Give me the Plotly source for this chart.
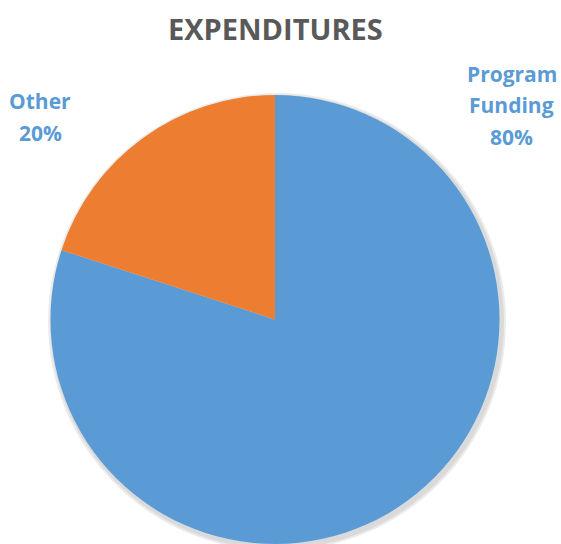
import plotly.graph_objects as go

labels = ["Program Funding", "Other"]
values = [80, 20]
colors = ["#5B9BD5", "#ED7D31"]
title_text = "EXPENDITURES"

W, H = 561, 544
total = sum(values)

fig = go.Figure()
fig.add_trace(go.Pie(
    labels=labels,
    values=values,
    marker=dict(colors=colors, line=dict(width=0)),
    sort=False,
    direction="clockwise",
    rotation=0,
    textinfo="none",
    hoverinfo="label+percent",
    showlegend=False,
    domain=dict(x=[50 / W, 500 / W], y=[0, (H - 95) / H]),
))

# subtle shadow behind the pie
for op, d in [(0.08, 4), (0.07, 2)]:
    fig.add_shape(type="circle", xref="paper", yref="paper", layer="below",
                  x0=(50 - d + 2) / W, x1=(500 + d + 2) / W,
                  y0=(H - 545 - d - 2) / H, y1=(H - 95 + d - 2) / H,
                  fillcolor="rgba(0,0,0,%s)" % op, line=dict(width=0))

font_family = "Open Sans"
label_color = "#5B9BD5"

def px(x, y):
    return x / W, 1 - y / H

annotations = []
tx, ty = px(275, 28)
annotations.append(dict(text="<b>%s</b>" % title_text, x=tx, y=ty, xref="paper", yref="paper",
                        showarrow=False, xanchor="center", yanchor="middle",
                        font=dict(family=font_family, size=29, color="#595959")))

# data labels (line by line)
pct = [round(v / total * 100) for v in values]
label_lines = {
    0: (["Program", "Funding", "%d%%" % pct[0]], 512, [74, 105, 137]),
    1: (["Other", "%d%%" % pct[1]], 40, [101, 133]),
}
for idx, (lines, cx, ys) in label_lines.items():
    for line, yy in zip(lines, ys):
        ax, ay = px(cx, yy)
        annotations.append(dict(text="<b>%s</b>" % line, x=ax, y=ay, xref="paper", yref="paper",
                                showarrow=False, xanchor="center", yanchor="middle",
                                font=dict(family=font_family, size=21, color=label_color)))

fig.update_layout(
    width=W, height=H,
    margin=dict(l=0, r=0, t=0, b=0),
    paper_bgcolor="white",
    plot_bgcolor="white",
    annotations=annotations,
)

fig.write_html("out.html",
               config={"displayModeBar": False},
               post_script="document.body.style.margin='0';document.body.style.overflow='hidden';")
